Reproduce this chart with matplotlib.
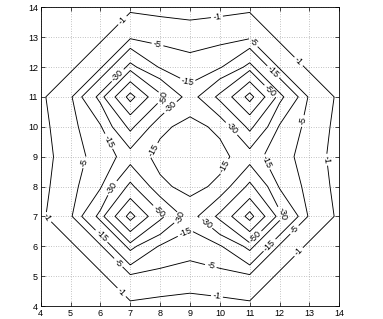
import matplotlib
matplotlib.use("Agg")
import numpy as np
import matplotlib.pyplot as plt

plt.rcParams["font.family"] = ["Liberation Sans", "DejaVu Sans"]

# grid positions (integer lattice 4..14)
x_pos = [4, 5, 6, 7, 8, 9, 10, 11, 12, 13, 14]
y_pos = [4, 5, 6, 7, 8, 9, 10, 11, 12, 13, 14]

# field values, one row per y (y = 4 first)
row_y4 = [-0.01, -0.02, -0.07, -0.5, -0.55, -0.4, -0.55, -0.5, -0.07, -0.02, -0.01]
row_y5 = [-0.02, -0.07, -0.5, -3.4, -2.0, -1.8, -2.0, -3.4, -0.5, -0.07, -0.02]
row_y6 = [-0.07, -0.5, -3.4, -34.4, -13.5, -8.0, -13.5, -34.4, -3.4, -0.5, -0.07]
row_y7 = [-0.5, -3.4, -34.4, -168.0, -55.0, -21.0, -55.0, -168.0, -34.4, -3.4, -0.5]
row_y8 = [-0.55, -2.0, -13.5, -55.0, -17.0, -12.0, -17.0, -55.0, -13.5, -2.0, -0.55]
row_y9 = [-0.4, -1.8, -8.0, -21.0, -12.0, -10.0, -12.0, -21.0, -8.0, -1.8, -0.4]
row_y10 = [-0.55, -2.0, -13.5, -55.0, -17.0, -12.0, -17.0, -55.0, -13.5, -2.0, -0.55]
row_y11 = [-0.5, -3.4, -34.4, -168.0, -55.0, -21.0, -55.0, -168.0, -34.4, -3.4, -0.5]
row_y12 = [-0.07, -0.5, -3.4, -34.4, -13.5, -8.0, -13.5, -34.4, -3.4, -0.5, -0.07]
row_y13 = [-0.02, -0.07, -0.5, -3.4, -2.0, -1.8, -2.0, -3.4, -0.5, -0.07, -0.02]
row_y14 = [-0.01, -0.02, -0.07, -0.5, -0.55, -0.4, -0.55, -0.5, -0.07, -0.02, -0.01]

inner_levels = [-150, -100]            # too small to carry a label
labelled = [-50, -30, -15, -5, -1]
ticks = [4, 5, 6, 7, 8, 9, 10, 11, 12, 13, 14]

# where the contour labels sit (clabel snaps each to the nearest line)
label_spots = [
    (6.7, 13.6), (9.9, 13.7), (12.7, 12.25), (13.6, 8.9),
    (4.25, 7.0), (6.7, 4.45), (9.9, 4.3), (12.7, 5.75),
    (7.9, 12.7), (11.1, 12.8), (12.75, 10.2), (5.5, 8.8),
    (6.6, 5.45), (9.7, 5.35), (12.5, 6.55),
    (8.95, 11.55), (11.8, 11.85), (6.25, 9.5), (7.8, 9.2),
    (10.2, 8.65), (11.5, 8.8), (6.0, 6.3), (8.85, 6.45), (11.65, 6.05),
    (6.5, 11.8), (8.35, 10.65), (10.35, 9.9), (6.4, 7.95),
    (8.7, 6.95), (9.5, 6.75), (12.05, 7.05),
    (8.15, 10.95), (11.7, 11.2), (8.0, 7.2), (11.2, 6.3),
]

Z = np.array([row_y4, row_y5, row_y6, row_y7, row_y8, row_y9,
              row_y10, row_y11, row_y12, row_y13, row_y14])
X, Y = np.meshgrid(x_pos, y_pos)

fig = plt.figure(figsize=(3.83, 3.19), dpi=100)
ax = fig.add_axes([40.7 / 383, 13 / 319, 298.6 / 383, 298.7 / 319])

ax.contour(X, Y, Z, levels=inner_levels, colors="k", linewidths=0.65,
           linestyles="solid")
cs = ax.contour(X, Y, Z, levels=labelled, colors="k", linewidths=0.65,
                linestyles="solid")
ax.clabel(cs, fmt="%d", fontsize=6.5, inline=True, inline_spacing=2,
          manual=label_spots)

ax.set_xlim(4, 14)
ax.set_ylim(4, 14)
ax.set_xticks(ticks)
ax.set_yticks(ticks)
ax.grid(True, linestyle=(0, (1, 2.5)), color="0.55", linewidth=0.5)
ax.tick_params(direction="in", length=3, width=0.5, labelsize=6.5, pad=2,
               top=True, right=True)
for sp in ax.spines.values():
    sp.set_linewidth(0.6)

fig.savefig("out.png", dpi=100)
